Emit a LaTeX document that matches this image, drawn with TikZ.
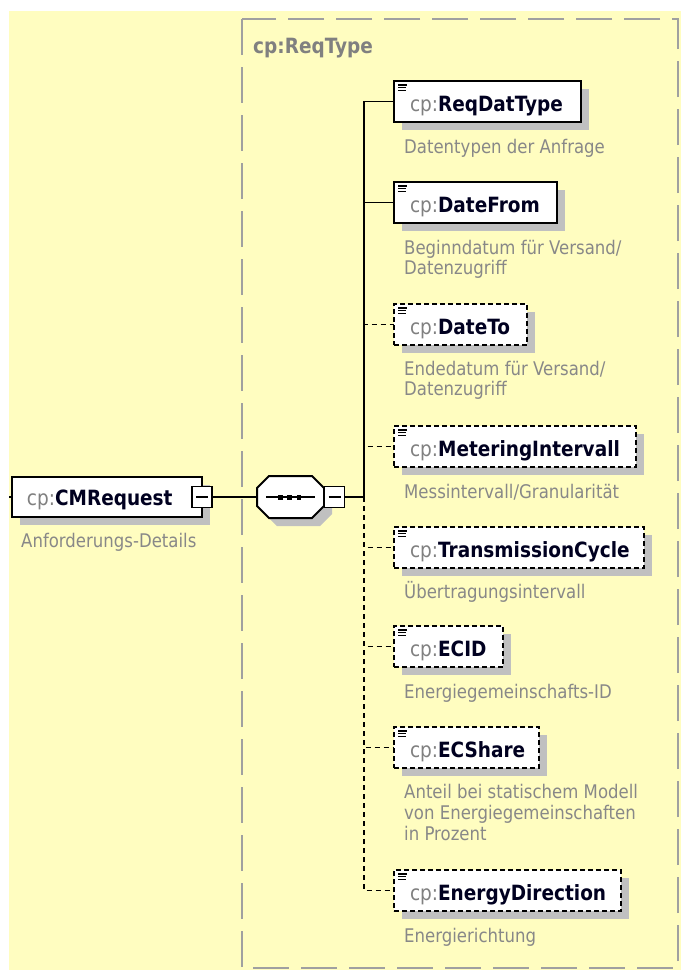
\documentclass[tikz,border=0pt]{standalone}
\usepackage{fontspec}
\setmainfont{DejaVu Sans}[FakeStretch=0.88]
\usetikzlibrary{shadows,calc}
\definecolor{bgyellow}{RGB}{255,253,192}
\definecolor{framegray}{RGB}{160,160,160}
\definecolor{shadowgray}{RGB}{192,192,192}
\definecolor{prefixgray}{RGB}{128,128,128}
\definecolor{namedark}{RGB}{0,0,32}
\definecolor{descgray}{RGB}{136,136,136}
\newcommand\lblfont{\fontsize{21}{24}\selectfont}
\newcommand\descfont{\fontsize{18.8}{21}\selectfont}
\newcommand\cpname[1]{\textcolor{prefixgray}{cp:}\textbf{#1}}
\begin{document}
\begin{tikzpicture}[x=1pt,y=-1pt,
  boxbase/.style={anchor=north west, fill=white, draw=black, line width=2pt,
    inner xsep=16pt, inner ysep=0pt, outer sep=0pt, minimum height=41pt,
    text height=30pt, text depth=11pt, align=left, text=namedark, font=\lblfont,
    drop shadow={shadow xshift=8pt, shadow yshift=-8pt, fill=shadowgray, opacity=1}},
  elem/.style={boxbase,
    path picture={\draw[solid, line width=1.1pt, black]
      ([xshift=4pt,yshift=-4pt]path picture bounding box.north west) -- ++(9pt,0pt)
      ([xshift=4pt,yshift=-6.6pt]path picture bounding box.north west) -- ++(7.5pt,0pt)
      ([xshift=4pt,yshift=-9.2pt]path picture bounding box.north west) -- ++(7.5pt,0pt);}},
  optelem/.style={elem, dash pattern=on 5pt off 3pt},
  minusbox/.style={draw=black, fill=white, line width=1.5pt, minimum width=20pt,
    minimum height=21pt, inner sep=0pt, outer sep=0pt,
    path picture={\draw[solid, line width=1.5pt, black]
      ([xshift=4pt]path picture bounding box.west) -- ([xshift=-4pt]path picture bounding box.east);}},
  conn/.style={draw=black, line width=1.7pt},
  optconn/.style={conn, dash pattern=on 5pt off 4pt},
  desc/.style={anchor=base west, inner sep=0pt, text=descgray, font=\descfont}
]
\useasboundingbox (0,0) rectangle (681,970);
\fill[white] (0,0) rectangle (681,970);
\fill[bgyellow] (9,11) rectangle (681,970);
\draw[framegray, line width=2pt, dash pattern=on 36pt off 12pt] (242,19) rectangle (678,968);
\node[anchor=base west, inner sep=0pt, font=\lblfont\bfseries, text=prefixgray] (title) at (253,53) {cp:ReqType};

% root element
\node[boxbase, minimum height=40pt, text height=28pt, text depth=12pt, inner xsep=15pt, text width=160pt] (cmreq) at (12,477) {\cpname{CMRequest}};
\node[desc] (cmdesc) at (21,547) {Anforderungs-Details};
\node[minusbox] (cmminus) at (202,497) {};

% sequence compositor
\node[inner sep=0pt, minimum width=67pt, minimum height=42pt] (seq) at (290.5,497) {};
\begin{scope}[shift={(8,8)}]
\fill[shadowgray] (269,476) -- (312,476) -- (324,488) -- (324,506) -- (312,518) -- (269,518) -- (257,506) -- (257,488) -- cycle;
\end{scope}
\draw[fill=white, line width=2pt] (269,476) -- (312,476) -- (324,488) -- (324,506) -- (312,518) -- (269,518) -- (257,506) -- (257,488) -- cycle;
\draw[line width=1.5pt] (266,497) -- (315,497);
\fill (278.3,494.5) rectangle ++(4.6,5);
\fill (287.4,494.5) rectangle ++(4.6,5);
\fill (296.6,494.5) rectangle ++(4.6,5);
\node[minusbox] (seqminus) at (334.5,497) {};

% child elements
\node[elem, text width=155pt] (e1) at (394,81) {\cpname{ReqDatType}};
\node[elem, text width=131pt] (e2) at (394,182) {\cpname{DateFrom}};
\node[optelem, text width=101pt] (e3) at (394,304) {\cpname{DateTo}};
\node[optelem, text width=210pt] (e4) at (394,426) {\cpname{MeteringIntervall}};
\node[optelem, text width=218pt] (e5) at (394,527) {\cpname{TransmissionCycle}};
\node[optelem, text width=77pt] (e6) at (394,626) {\cpname{ECID}};
\node[optelem, text width=113pt] (e7) at (394,727) {\cpname{ECShare}};
\node[optelem, text width=195pt] (e8) at (394,870) {\cpname{EnergyDirection}};

% descriptions
\node[desc] (d1) at (404,153) {Datentypen der Anfrage};
\node[desc] (d2a) at (404,254) {Beginndatum für Versand/};
\node[desc] (d2b) at (404,274.5) {Datenzugriff};
\node[desc] (d3a) at (404,375) {Endedatum für Versand/};
\node[desc] (d3b) at (404,395.5) {Datenzugriff};
\node[desc] (d4) at (404,498) {Messintervall/Granularität};
\node[desc] (d5) at (404,598) {Übertragungsintervall};
\node[desc] (d6) at (404,698) {Energiegemeinschafts-ID};
\node[desc] (d7a) at (404,798) {Anteil bei statischem Modell};
\node[desc] (d7b) at (404,819) {von Energiegemeinschaften};
\node[desc] (d7c) at (404,840) {in Prozent};
\node[desc] (d8) at (404,942) {Energierichtung};

% connectors
\coordinate (stub) at (9,497);
\coordinate (bus) at (364,497);
\draw[conn] (stub) -- (cmreq.west);
\draw[conn] (cmminus.east) -- (seq.west);
\draw[conn] (seqminus.east) -- (bus);
\draw[optconn] (bus) |- (e3.west);
\draw[optconn] (bus) |- (e4.west);
\draw[optconn] (bus) |- (e5.west);
\draw[optconn] (bus) |- (e6.west);
\draw[optconn] (bus) |- (e7.west);
\draw[optconn] (bus) |- (e8.west);
\draw[conn] (bus) |- (e1.west);
\draw[conn] (bus) |- (e2.west);
\end{tikzpicture}
\end{document}
